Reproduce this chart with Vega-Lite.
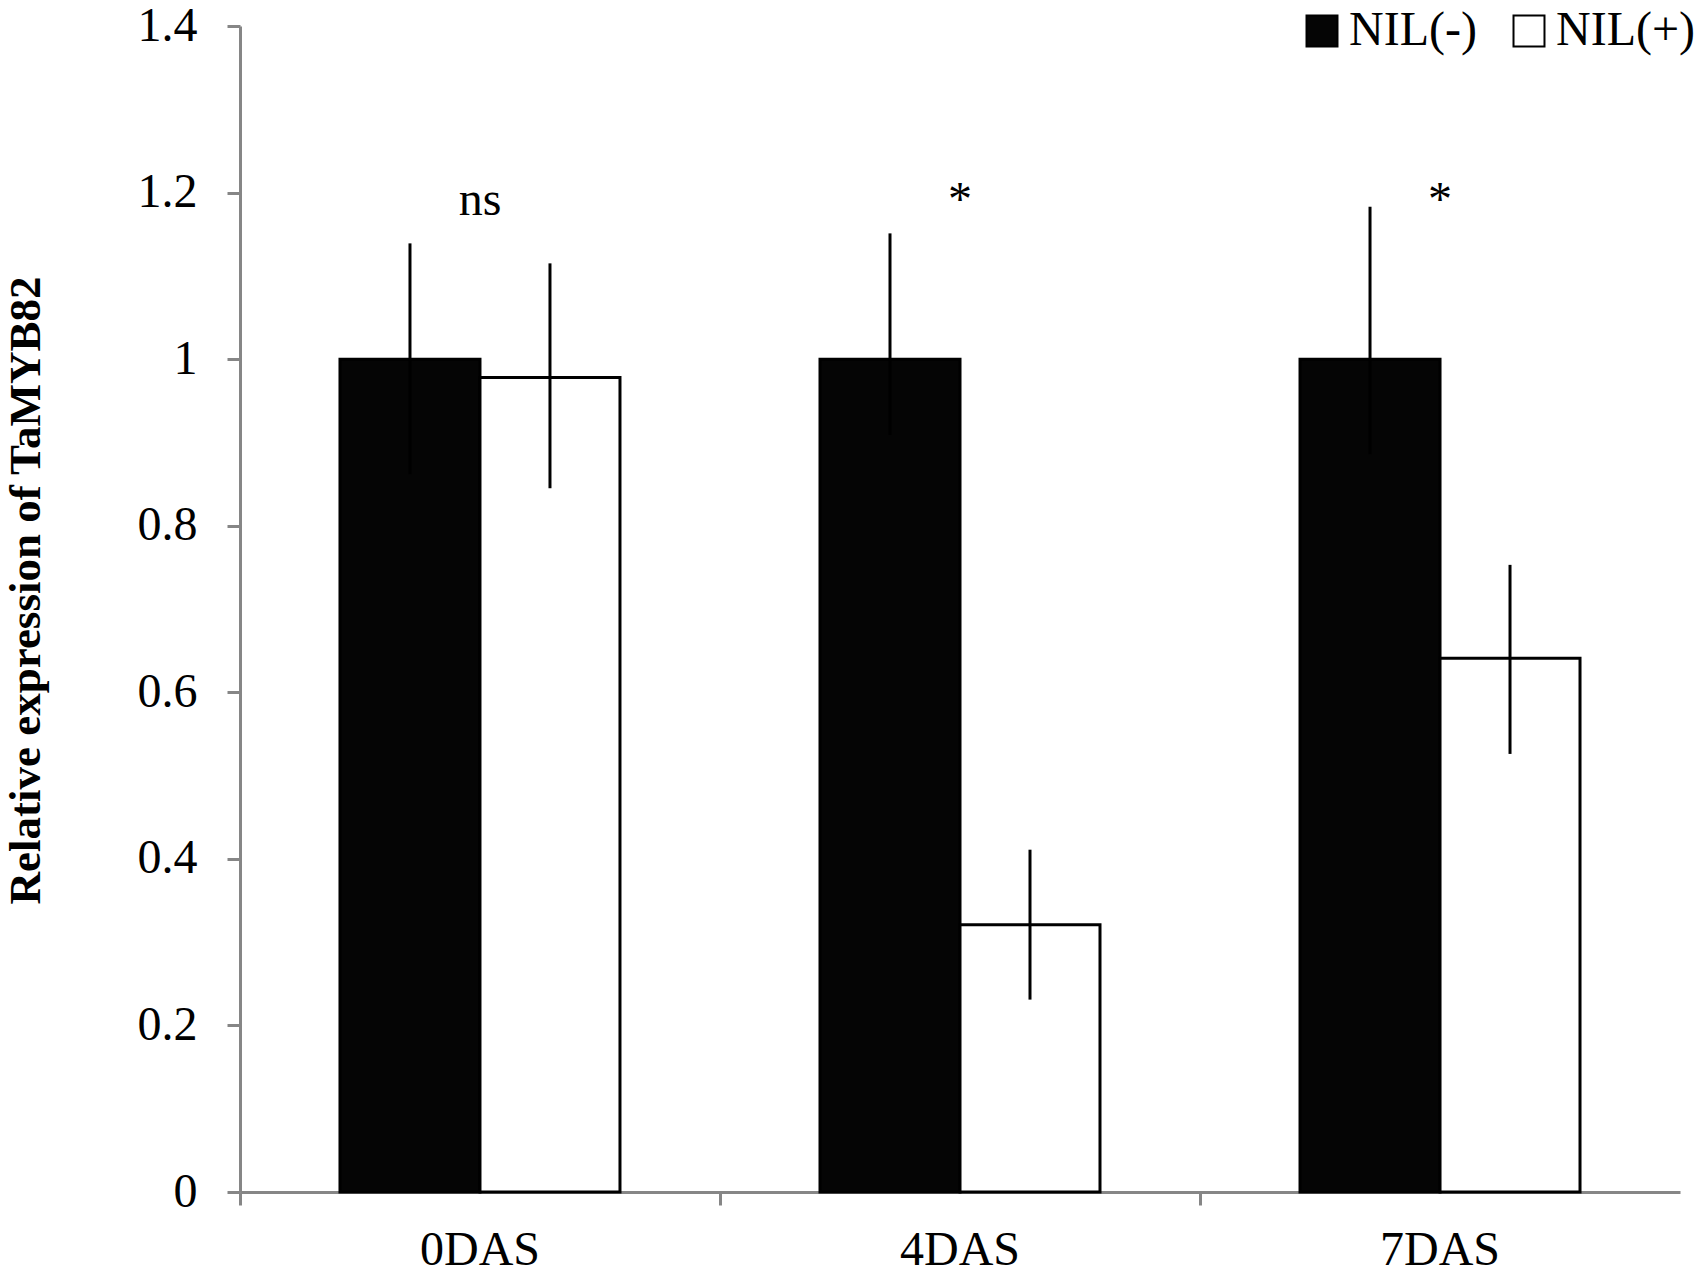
{
  "$schema": "https://vega.github.io/schema/vega-lite/v6.json",
  "autosize": "none",
  "width": 1440,
  "height": 1166,
  "padding": {"left": 240, "top": 26, "right": 26, "bottom": 82},
  "background": "white",
  "config": {
    "view": {"stroke": null},
    "font": "Liberation Serif",
    "axis": {
      "domainColor": "#868686",
      "domainWidth": 3,
      "tickColor": "#868686",
      "tickWidth": 3,
      "tickSize": 13,
      "grid": false,
      "labelFont": "Liberation Serif",
      "labelFontSize": 48,
      "labelColor": "black",
      "titleFont": "Liberation Serif",
      "titleColor": "black"
    }
  },
  "datasets": {
    "expr": [
      {"stage": "0DAS", "line": "NIL(-)", "mean": 1.0, "lo": 0.862, "hi": 1.139},
      {"stage": "0DAS", "line": "NIL(+)", "mean": 0.978, "lo": 0.845, "hi": 1.115},
      {"stage": "4DAS", "line": "NIL(-)", "mean": 1.0, "lo": 0.909, "hi": 1.151},
      {"stage": "4DAS", "line": "NIL(+)", "mean": 0.321, "lo": 0.231, "hi": 0.411},
      {"stage": "7DAS", "line": "NIL(-)", "mean": 1.0, "lo": 0.886, "hi": 1.183},
      {"stage": "7DAS", "line": "NIL(+)", "mean": 0.641, "lo": 0.526, "hi": 0.753}
    ],
    "signif": [
      {"stage": "0DAS", "label": "ns", "pos": 1.173},
      {"stage": "4DAS", "label": "*", "pos": 1.173},
      {"stage": "7DAS", "label": "*", "pos": 1.173}
    ]
  },
  "layer": [
    {
      "data": {"name": "expr"},
      "mark": {"type": "bar", "stroke": "black", "strokeWidth": 3},
      "encoding": {
        "x": {
          "field": "stage",
          "type": "nominal",
          "scale": {"domain": ["0DAS", "4DAS", "7DAS"], "paddingInner": 0.4167, "paddingOuter": 0.2083},
          "axis": {"title": null, "labelAngle": 0, "labelPadding": 21, "bandPosition": -0.357}
        },
        "xOffset": {
          "field": "line",
          "type": "nominal",
          "scale": {"domain": ["NIL(-)", "NIL(+)"], "paddingInner": 0, "paddingOuter": 0}
        },
        "y": {
          "field": "mean",
          "type": "quantitative",
          "scale": {"domain": [0, 1.4], "nice": false},
          "axis": {
            "title": "Relative expression of TaMYB82",
            "values": [0, 0.2, 0.4, 0.6, 0.8, 1, 1.2, 1.4],
            "format": "~g",
            "labelPadding": 30,
            "titleFontSize": 45,
            "titleFontWeight": "bold",
            "titleAngle": -90,
            "titleAlign": "center",
            "titleBaseline": "alphabetic",
            "titleX": -201,
            "titleY": 564
          }
        },
        "fill": {
          "field": "line",
          "type": "nominal",
          "scale": {"domain": ["NIL(-)", "NIL(+)"], "range": ["#050505", "#ffffff"]},
          "legend": {
            "title": null,
            "orient": "none",
            "legendX": 1058,
            "legendY": -19,
            "direction": "horizontal",
            "padding": 0,
            "symbolType": "square",
            "symbolSize": 960,
            "symbolStrokeColor": "black",
            "symbolStrokeWidth": 2,
            "symbolOpacity": 1,
            "labelFont": "Liberation Serif",
            "labelFontSize": 48,
            "labelColor": "black",
            "labelOffset": 3,
            "columnPadding": 28
          }
        }
      }
    },
    {
      "data": {"name": "expr"},
      "mark": {"type": "rule", "color": "black", "strokeWidth": 3},
      "encoding": {
        "x": {"field": "stage", "type": "nominal"},
        "xOffset": {"field": "line", "type": "nominal"},
        "y": {"field": "lo", "type": "quantitative", "title": "Relative expression of TaMYB82"},
        "y2": {"field": "hi"}
      }
    },
    {
      "data": {"name": "signif"},
      "mark": {"type": "text", "fontSize": 48, "font": "Liberation Serif", "color": "black", "baseline": "alphabetic"},
      "encoding": {
        "x": {"field": "stage", "type": "nominal"},
        "y": {"field": "pos", "type": "quantitative", "title": "Relative expression of TaMYB82"},
        "text": {"field": "label"}
      }
    }
  ]
}
